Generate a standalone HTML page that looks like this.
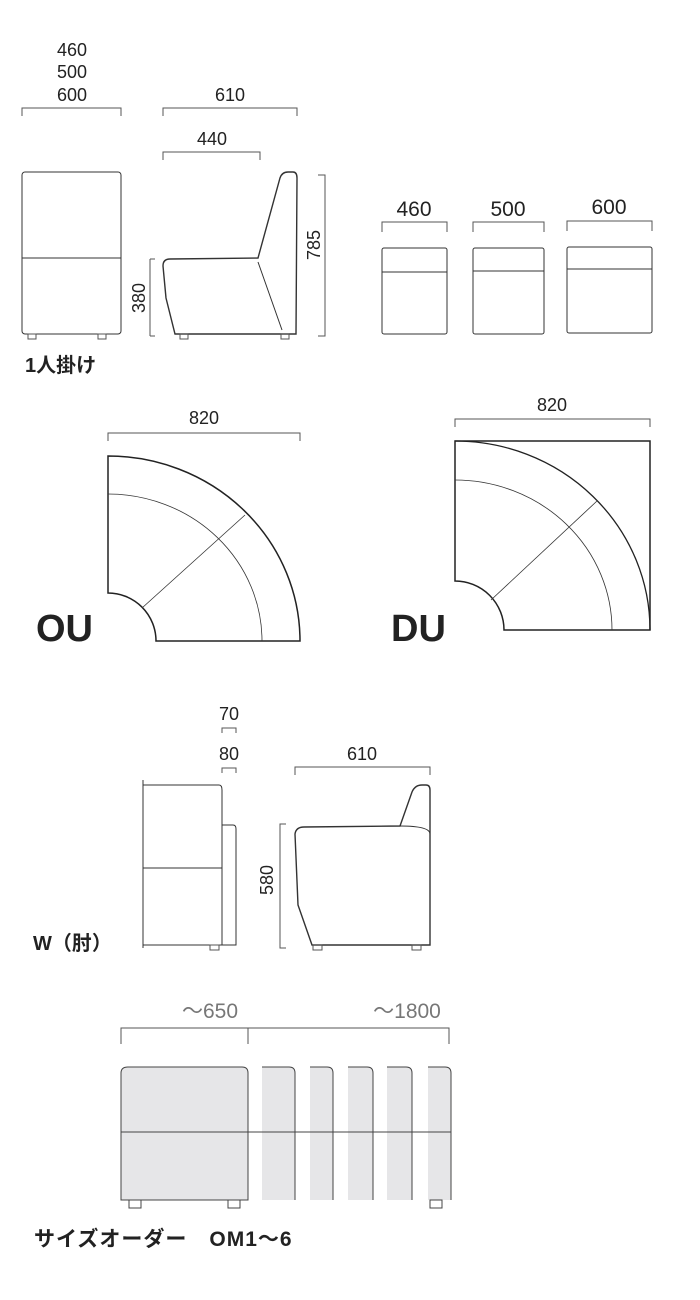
<!DOCTYPE html>
<html><head><meta charset="utf-8"><style>
html,body{margin:0;padding:0;background:#fff;}
svg{display:block}
text{font-family:"Liberation Sans","Noto Sans CJK JP",sans-serif;fill:#222}
</style></head><body>
<svg width="700" height="1300" viewBox="0 0 700 1300" xmlns="http://www.w3.org/2000/svg">
<g fill="none" stroke="#555" stroke-width="1">
<path d="M22,116 V108 H121 V116"/>
<rect x="22" y="172" width="99" height="162" rx="3" stroke="#333"/>
<line x1="22" y1="258" x2="121" y2="258" stroke="#333"/>
<rect x="28" y="334" width="8" height="5"/><rect x="98" y="334" width="8" height="5"/>
<path d="M163,116 V108 H297 V116"/>
<path d="M163,160 V152 H260 V160"/>
<path d="M150,259 H155 M150,259 V336 M150,336 H155"/>
<path d="M318,175 H325 V336 H318"/>
<path d="M166,298 L163,266 Q163,259 170,259 L258,258 L280,178 Q282,172 288,172 L293,172 Q297,172 297,178 L296,334 L175,334 Z" stroke="#333" stroke-width="1.4"/>
<path d="M258,262 L282,330" stroke="#333"/>
<rect x="180" y="334" width="8" height="5"/><rect x="281" y="334" width="8" height="5"/>
<path d="M382,232 V222 H447 V232"/>
<rect x="382" y="248" width="65" height="86" rx="2" stroke="#333"/>
<line x1="382" y1="272" x2="447" y2="272" stroke="#333"/>
<path d="M473,232 V222 H544 V232"/>
<rect x="473" y="248" width="71" height="86" rx="2" stroke="#333"/>
<line x1="473" y1="271" x2="544" y2="271" stroke="#333"/>
<path d="M567,231 V221 H652 V231"/>
<rect x="567" y="247" width="85" height="86" rx="2" stroke="#333"/>
<line x1="567" y1="269" x2="652" y2="269" stroke="#333"/>
<path d="M108,441 V433 H300 V441"/>
<path d="M108,456 A192,185 0 0 1 300,641 L156,641 A48,48 0 0 0 108,593 Z" stroke="#222" stroke-width="1.5"/>
<path d="M108,494 A154,147 0 0 1 262,641" stroke="#333" stroke-width="0.8"/>
<path d="M142,608 L245,515" stroke="#333" stroke-width="0.8"/>
<path d="M455,427 V419 H650 V427"/>
<path d="M455,441 H650 V630 H504 A49,49 0 0 0 455,581 Z" stroke="#222" stroke-width="1.5"/>
<path d="M455,441 A195,189 0 0 1 650,630" stroke="#222" stroke-width="1.3"/>
<path d="M455,480 A157,150 0 0 1 612,630" stroke="#333" stroke-width="0.8"/>
<path d="M491,600 L597,501" stroke="#333" stroke-width="0.8"/>
<path d="M222,733 V728 H236 V733"/>
<path d="M222,773 V768 H236 V773"/>
<line x1="143" y1="780" x2="143" y2="948" stroke="#333"/>
<path d="M143,785 H219 Q222,785 222,790 V945 H143" stroke="#333"/>
<line x1="143" y1="868" x2="222" y2="868" stroke="#333"/>
<path d="M222,825 H233 Q236,825 236,829 V945 H222" stroke="#333"/>
<rect x="210" y="945" width="9" height="5"/>
<path d="M295,775 V767 H430 V775"/>
<path d="M286,824 H280 V948 H286"/>
<path d="M298,905 L295,834 Q296,827 304,827 L400,826 L412,792 Q415,785 422,785 L426,785 Q430,785 430,790 V945 L312,945 Z" stroke="#333" stroke-width="1.4"/>
<path d="M400,826 Q430,826 430,834" stroke="#333"/>
<rect x="313" y="945" width="9" height="5"/><rect x="412" y="945" width="9" height="5"/>
<path d="M121,1044 V1028 H449 V1044 M248,1028 V1044"/>
</g>
<g stroke="#444" stroke-width="1" fill="#e6e6e8">
<path d="M121,1200 V1073 Q121,1067 128,1067 H242 Q248,1067 248,1073 V1200 Z"/>
<path d="M262,1200 V1067 H289 Q295,1067 295,1073 V1200" stroke-width="0"/>
<path d="M295,1200 V1073 Q295,1067 289,1067 H262"/>
<path d="M310,1200 V1067 H327 Q333,1067 333,1073 V1200 Z" stroke-width="0"/>
<path d="M333,1200 V1073 Q333,1067 327,1067 H310"/>
<path d="M348,1200 V1067 H367 Q373,1067 373,1073 V1200 Z" stroke-width="0"/>
<path d="M373,1200 V1073 Q373,1067 367,1067 H348"/>
<path d="M387,1200 V1067 H406 Q412,1067 412,1073 V1200 Z" stroke-width="0"/>
<path d="M412,1200 V1073 Q412,1067 406,1067 H387"/>
<path d="M428,1200 V1067 H445 Q451,1067 451,1073 V1200 Z" stroke-width="0"/>
<path d="M451,1200 V1073 Q451,1067 445,1067 H428"/>
<path d="M121,1132 H451" fill="none"/>
<rect x="129" y="1200" width="12" height="8" fill="none"/>
<rect x="228" y="1200" width="12" height="8" fill="none"/>
<rect x="430" y="1200" width="12" height="8" fill="none"/>
</g>
<g font-size="18" text-anchor="middle">
<text x="72" y="56">460</text><text x="72" y="78">500</text><text x="72" y="101">600</text>
<text x="230" y="101">610</text>
<text x="212" y="145">440</text>
<text transform="translate(320,245) rotate(-90)">785</text>
<text transform="translate(145,298) rotate(-90)">380</text>
<text x="414" y="216" font-size="21">460</text>
<text x="508" y="216" font-size="21">500</text>
<text x="609" y="214" font-size="21">600</text>
<text x="204" y="424">820</text>
<text x="552" y="411">820</text>
<text x="229" y="720">70</text>
<text x="229" y="760">80</text>
<text x="362" y="760">610</text>
<text transform="translate(273,880) rotate(-90)">580</text>
<text x="210" y="1018" font-size="21" style="fill:#777">～650</text>
<text x="407" y="1018" font-size="21" style="fill:#777">～1800</text>
</g>
<g font-weight="bold">
<text x="25" y="372" font-size="20">1人掛け</text>
<text x="36" y="641" font-size="38">OU</text>
<text x="391" y="641" font-size="38">DU</text>
<text x="33" y="950" font-size="20">W（肘）</text>
<text x="34" y="1246" font-size="21" letter-spacing="1">サイズオーダー　OM1～6</text>
</g>
</svg>
</body></html>
